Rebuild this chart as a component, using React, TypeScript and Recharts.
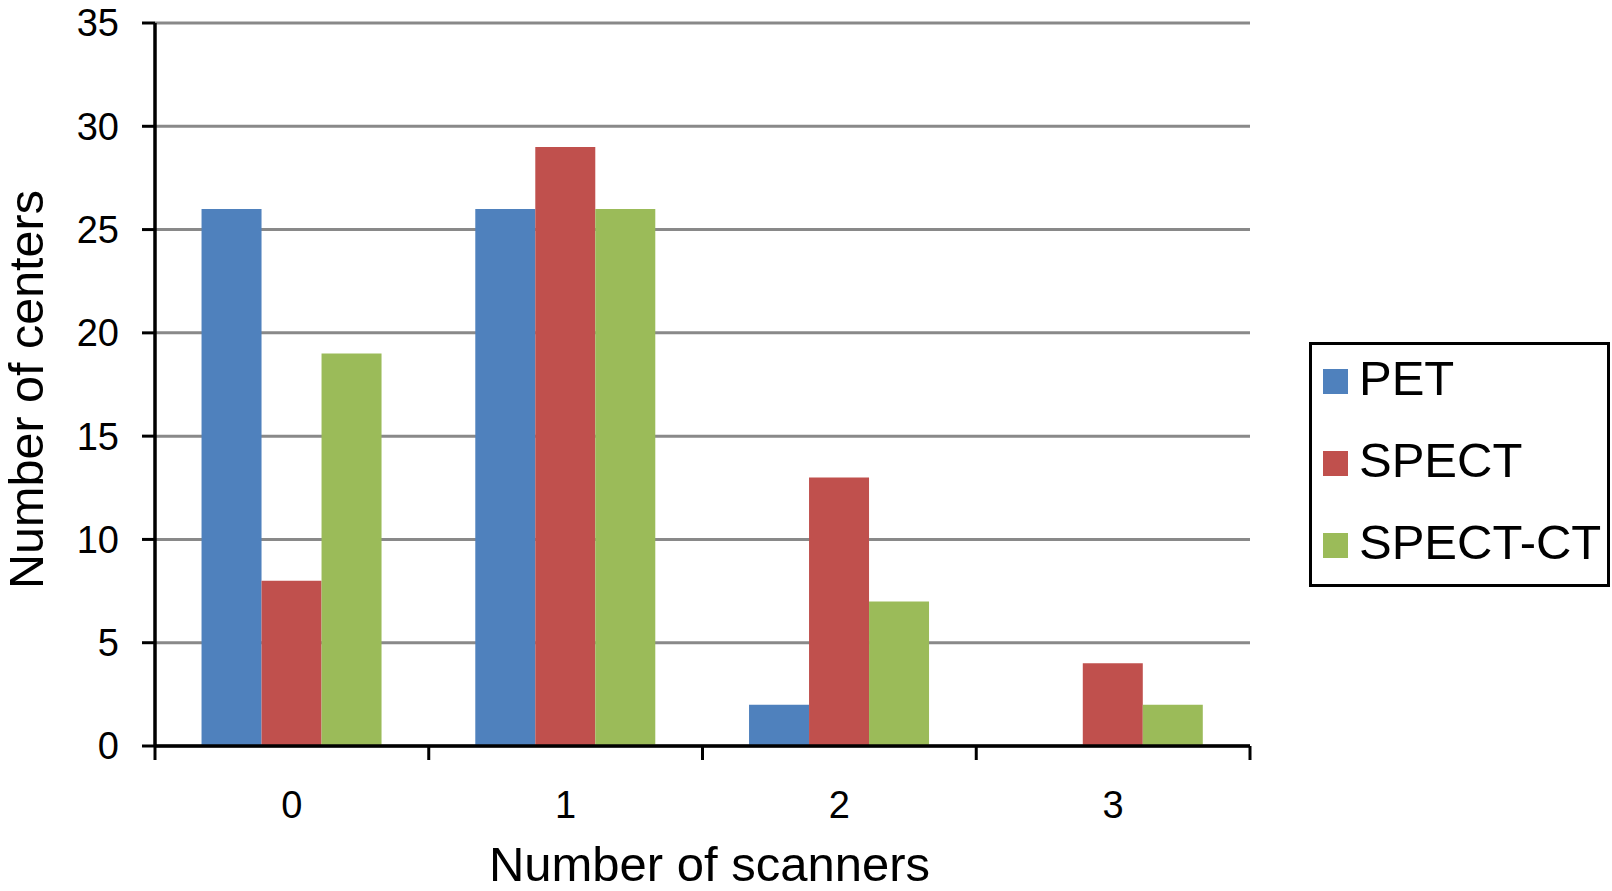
import { BarChart, Bar, XAxis, YAxis, CartesianGrid, Label } from 'recharts'

// ─── Dữ liệu ─────────────────────────────────────────────────────────────────
const categories = ['0', '1', '2', '3']
const petValues = [26, 26, 2, 0]
const spectValues = [8, 29, 13, 4]
const spectCtValues = [19, 26, 7, 2]
const yTicks = [0, 5, 10, 15, 20, 25, 30, 35]

const series = [
  { key: 'PET', values: petValues, color: '#4F81BD' },
  { key: 'SPECT', values: spectValues, color: '#C0504D' },
  { key: 'SPECT-CT', values: spectCtValues, color: '#9BBB59' },
]

const data = categories.map((c, i) => {
  const row: Record<string, string | number> = { name: c }
  series.forEach((s) => {
    row[s.key] = s.values[i]
  })
  return row
})

const FONT = '"Liberation Sans", Arial, Helvetica, sans-serif'
const W = 1612
const H = 891
const MARGIN = { top: 23, right: 362, bottom: 0, left: 0 }

// tick danh mục: nhãn ở giữa, vạch ở ranh giới
function XTick(props: any) {
  const { x, y, payload, index, visibleTicksCount } = props
  const axisWidth = typeof props.width === 'number' ? props.width : W - 155 - MARGIN.right
  const band = axisWidth / (visibleTicksCount || categories.length)
  return (
    <g>
      <line x1={x - band / 2} x2={x - band / 2} y1={y} y2={y + 14} stroke="#000" strokeWidth={3} />
      {index === visibleTicksCount - 1 && (
        <line x1={x + band / 2} x2={x + band / 2} y1={y} y2={y + 14} stroke="#000" strokeWidth={3} />
      )}
      <text x={x} y={y + 59} textAnchor="middle" dominantBaseline="central" fontSize={38} fontFamily={FONT} fill="#000">
        {payload.value}
      </text>
    </g>
  )
}

function YTitle({ viewBox }: any) {
  const cx = viewBox.x + 26
  const cy = viewBox.y + viewBox.height / 2 + 5
  return (
    <text
      x={cx}
      y={cy}
      transform={`rotate(-90, ${cx}, ${cy})`}
      textAnchor="middle"
      dominantBaseline="central"
      fontSize={48.5}
      fontFamily={FONT}
      fill="#000"
    >
      Number of centers
    </text>
  )
}

function XTitle({ viewBox }: any) {
  return (
    <text
      x={viewBox.x + viewBox.width / 2 + 7}
      y={864}
      textAnchor="middle"
      dominantBaseline="central"
      fontSize={49}
      fontFamily={FONT}
      fill="#000"
    >
      Number of scanners
    </text>
  )
}

function LegendBox() {
  return (
    <div
      style={{
        position: 'absolute',
        left: 1309,
        top: 342,
        width: 301,
        height: 245,
        border: '3px solid #000',
        boxSizing: 'border-box',
        background: '#fff',
        fontFamily: FONT,
      }}
    >
      {series.map((s, i) => (
        <div
          key={s.key}
          style={{
            position: 'absolute',
            left: 11,
            top: 33 + i * 82 - 25,
            height: 50,
            display: 'flex',
            alignItems: 'center',
            whiteSpace: 'nowrap',
          }}
        >
          <div style={{ width: 25, height: 25, background: s.color, marginRight: 11, marginTop: 6 }} />
          <span style={{ fontSize: 49, lineHeight: 1, color: '#000' }}>{s.key}</span>
        </div>
      ))}
    </div>
  )
}

export default function App() {
  return (
    <div style={{ position: 'absolute', left: 0, top: 0, width: W, height: H, background: '#fff' }}>
      <BarChart width={W} height={H} data={data} margin={MARGIN} barCategoryGap="17%" barGap={0}>
        <CartesianGrid vertical={false} stroke="#898989" strokeWidth={3} />
        <XAxis
          dataKey="name"
          height={145}
          interval={0}
          tickLine={false}
          tickSize={0}
          tickMargin={0}
          axisLine={{ stroke: '#000', strokeWidth: 3.5 }}
          tick={<XTick />}
        >
          <Label content={<XTitle />} />
        </XAxis>
        <YAxis
          width={155}
          domain={[0, 35]}
          ticks={yTicks}
          interval={0}
          tickSize={13}
          tickMargin={23}
          axisLine={{ stroke: '#000', strokeWidth: 3.5 }}
          tickLine={{ stroke: '#000', strokeWidth: 3 }}
          tick={{ fontSize: 38, fontFamily: FONT, fill: '#000' }}
        >
          <Label content={<YTitle />} />
        </YAxis>
        {series.map((s) => (
          <Bar key={s.key} dataKey={s.key} fill={s.color} isAnimationActive={false} />
        ))}
      </BarChart>
      <LegendBox />
    </div>
  )
}
